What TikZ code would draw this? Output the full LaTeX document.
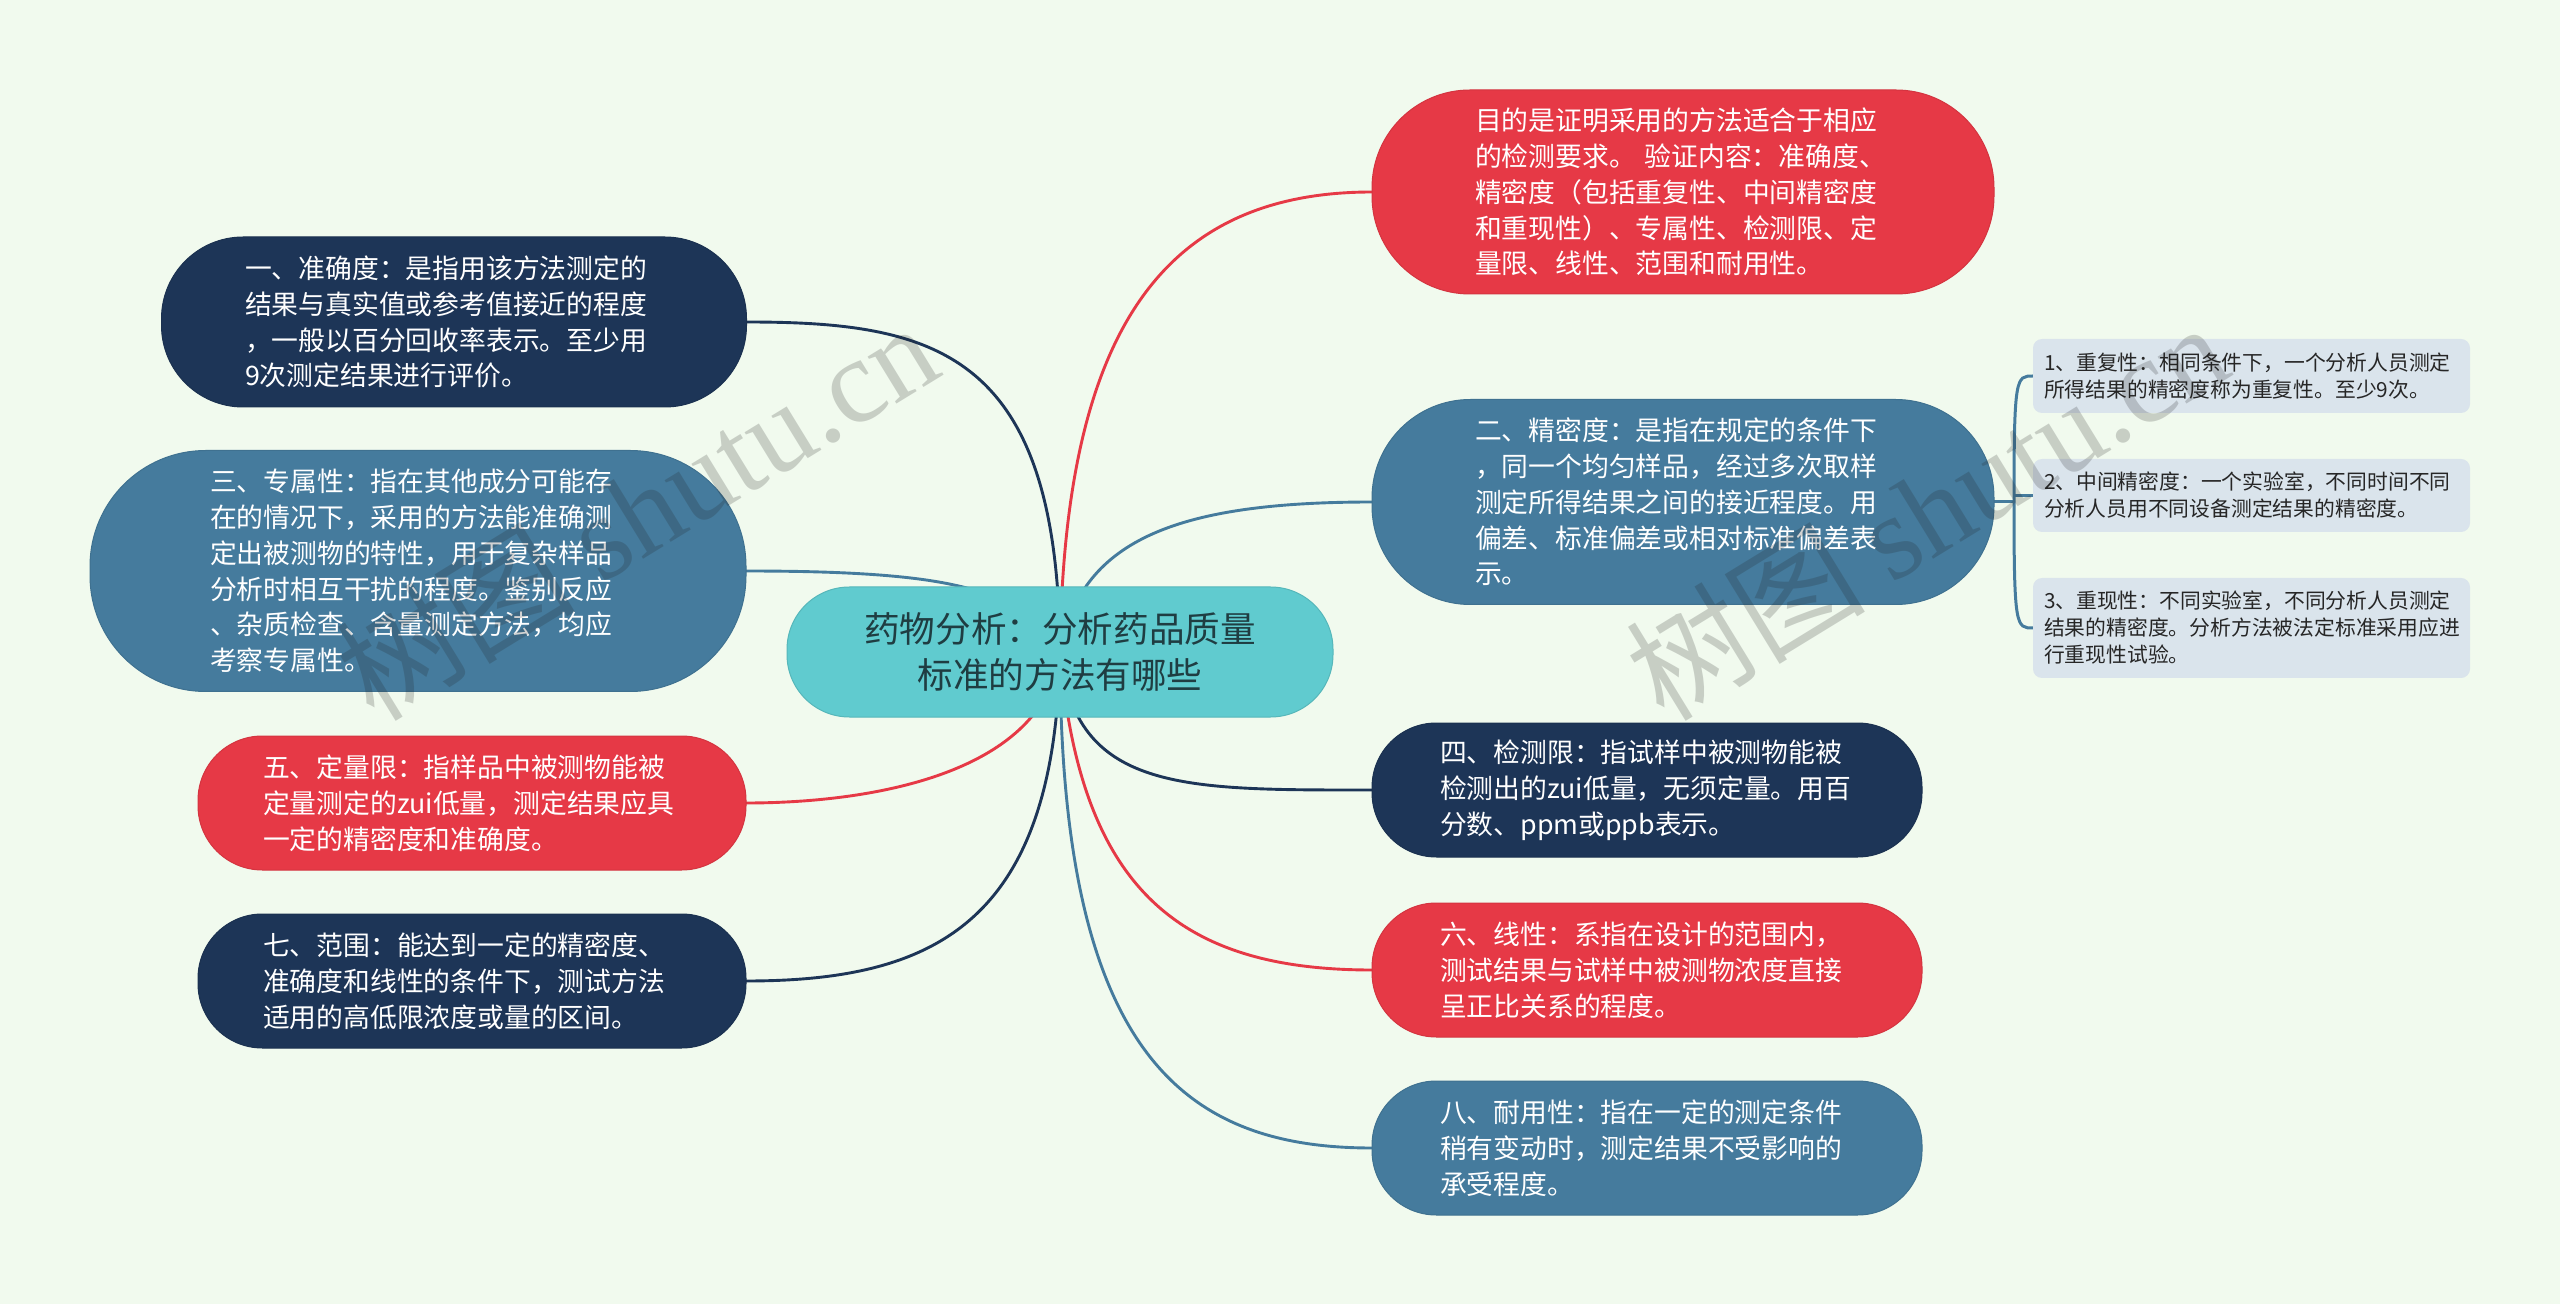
\documentclass[tikz,border=0pt]{standalone}
\usepackage{fontspec}
\setmainfont{Noto Sans CJK SC}
\newfontfamily\wmlatin{Liberation Serif}
\usetikzlibrary{calc,backgrounds}
\definecolor{bgc}{HTML}{F1FAEE}
\definecolor{navy}{HTML}{1D3557}
\definecolor{crim}{HTML}{E63946}
\definecolor{steel}{HTML}{457B9D}
\definecolor{teal}{HTML}{60CBCF}
\definecolor{pale}{HTML}{DAE4EC}
\definecolor{rootink}{HTML}{1F3D42}
\definecolor{wm}{HTML}{202020}
\newcommand{\zc}{^^^^ff1a}
\newcommand{\zd}{^^^^ff0c}
\newcommand{\zl}{^^^^ff08}
\newcommand{\zr}{^^^^ff09}
\tikzset{
  x=0.5pt,y=-0.5pt,
  pill/.style args={#1/#2/#3/#4}{draw=#1!92!black,line width=0.5pt,fill=#1,text=white,
    minimum width=#2*0.5pt,minimum height=#3*0.5pt,rounded corners=#3*0.24pt,
    inner sep=0pt,outer sep=0pt,align=left,text width=#4*0.5pt,
    font=\fontsize{13.4}{17.9}\selectfont},
  subbox/.style={fill=pale,minimum width=437*0.5pt,rounded corners=4.5pt,inner sep=0pt,outer sep=0pt,
    align=left,text width=415*0.5pt,text=black!85,font=\fontsize{10.4}{13.5}\selectfont},
  link/.style={line width=1.45pt,draw=#1},
  brace/.style={line width=1.5pt,draw=steel},
  wmark/.style={text=wm,opacity=0.2,rotate=31.5,font=\fontsize{60}{60}\selectfont,inner sep=0pt},
}
\newcommand{\conn}[4]{\draw[link=#1] (root.center) .. controls ($(root.center)+(#3)$) and ($(#2)+(#4)$) .. (#2);}
\begin{document}
\begin{tikzpicture}
\useasboundingbox (0,0) rectangle (2560,1304);
\node[pill=teal/546/130/530,text=rootink,align=center,font=\fontsize{17.8}{23}\selectfont,draw=teal!90!black] (root) at (1060,652) {药物分析\zc{}分析药品质量\\标准的方法有哪些};
\node[pill=crim/622/204/416] (n1) at (1683,192) {目的是证明采用的方法适合于相应\\的检测要求。 验证内容\zc{}准确度、\\精密度\zl{}包括重复性、中间精密度\\和重现性\zr{}、专属性、检测限、定\\量限、线性、范围和耐用性。};
\node[pill=steel/622/205/416] (n2) at (1683,502) {二、精密度\zc{}是指在规定的条件下\\\zd{}同一个均匀样品\zd{}经过多次取样\\测定所得结果之间的接近程度。用\\偏差、标准偏差或相对标准偏差表\\示。};
\node[pill=navy/550/134/414] (n4) at (1647,790) {四、检测限\zc{}指试样中被测物能被\\检测出的zui低量\zd{}无须定量。用百\\分数、ppm或ppb表示。};
\node[pill=crim/550/134/414] (n6) at (1647,970) {六、线性\zc{}系指在设计的范围内\zd{}\\测试结果与试样中被测物浓度直接\\呈正比关系的程度。};
\node[pill=steel/550/134/414] (n8) at (1647,1148) {八、耐用性\zc{}指在一定的测定条件\\稍有变动时\zd{}测定结果不受影响的\\承受程度。};
\node[pill=navy/585/170/418] (n3) at (454,322) {一、准确度\zc{}是指用该方法测定的\\结果与真实值或参考值接近的程度\\\zd{}一般以百分回收率表示。至少用\\9次测定结果进行评价。};
\node[pill=steel/656/241/416] (n5) at (418,571) {三、专属性\zc{}指在其他成分可能存\\在的情况下\zd{}采用的方法能准确测\\定出被测物的特性\zd{}用于复杂样品\\分析时相互干扰的程度。鉴别反应\\、杂质检查、含量测定方法\zd{}均应\\考察专属性。};
\node[pill=crim/548/134/418] (n7) at (472,803) {五、定量限\zc{}指样品中被测物能被\\定量测定的zui低量\zd{}测定结果应具\\一定的精密度和准确度。};
\node[pill=navy/548/134/418] (n9) at (472,981) {七、范围\zc{}能达到一定的精密度、\\准确度和线性的条件下\zd{}测试方法\\适用的高低限浓度或量的区间。};
\node[subbox,minimum height=74*0.5pt] (s1) at (2251.5,376) {1、重复性\zc{}相同条件下\zd{}一个分析人员测定\\所得结果的精密度称为重复性。至少9次。};
\node[subbox,minimum height=73*0.5pt] (s2) at (2251.5,495.5) {2、中间精密度\zc{}一个实验室\zd{}不同时间不同\\分析人员用不同设备测定结果的精密度。};
\node[subbox,minimum height=100*0.5pt] (s3) at (2251.5,628) {3、重现性\zc{}不同实验室\zd{}不同分析人员测定\\结果的精密度。分析方法被法定标准采用应进\\行重现性试验。};
\coordinate (fork) at (2014,502);
\begin{scope}[on background layer]
\fill[bgc] (0,0) rectangle (2560,1304);
\conn{crim}{n1.west}{4,-320}{-210,0}
\conn{steel}{n2.west}{20,-110}{-200,0}
\conn{navy}{n4.west}{15,140}{-190,0}
\conn{crim}{n6.west}{20,240}{-190,0}
\conn{steel}{n8.west}{0,400}{-190,0}
\conn{navy}{n3.east}{-2,-300}{190,0}
\conn{steel}{n5.east}{-40,-60}{220,0}
\conn{crim}{n7.east}{-15,120}{130,0}
\conn{navy}{n9.east}{-5,270}{190,0}
\draw[brace] (n2.east) -- (fork);
\draw[brace] (fork) .. controls ($(fork)+(0,-126)$) and ($(s1.west)+(-17,0)$) .. (s1.west);
\draw[brace] (fork |- s2.west) -- (s2.west);
\draw[brace] (fork) .. controls ($(fork)+(0,126)$) and ($(s3.west)+(-17,0)$) .. (s3.west);
\end{scope}
\node[wmark] (w1) at (636,510) {树图 {\wmlatin shutu.cn}};
\node[wmark] (w2) at (1926,510) {树图 {\wmlatin shutu.cn}};
\end{tikzpicture}
\end{document}
